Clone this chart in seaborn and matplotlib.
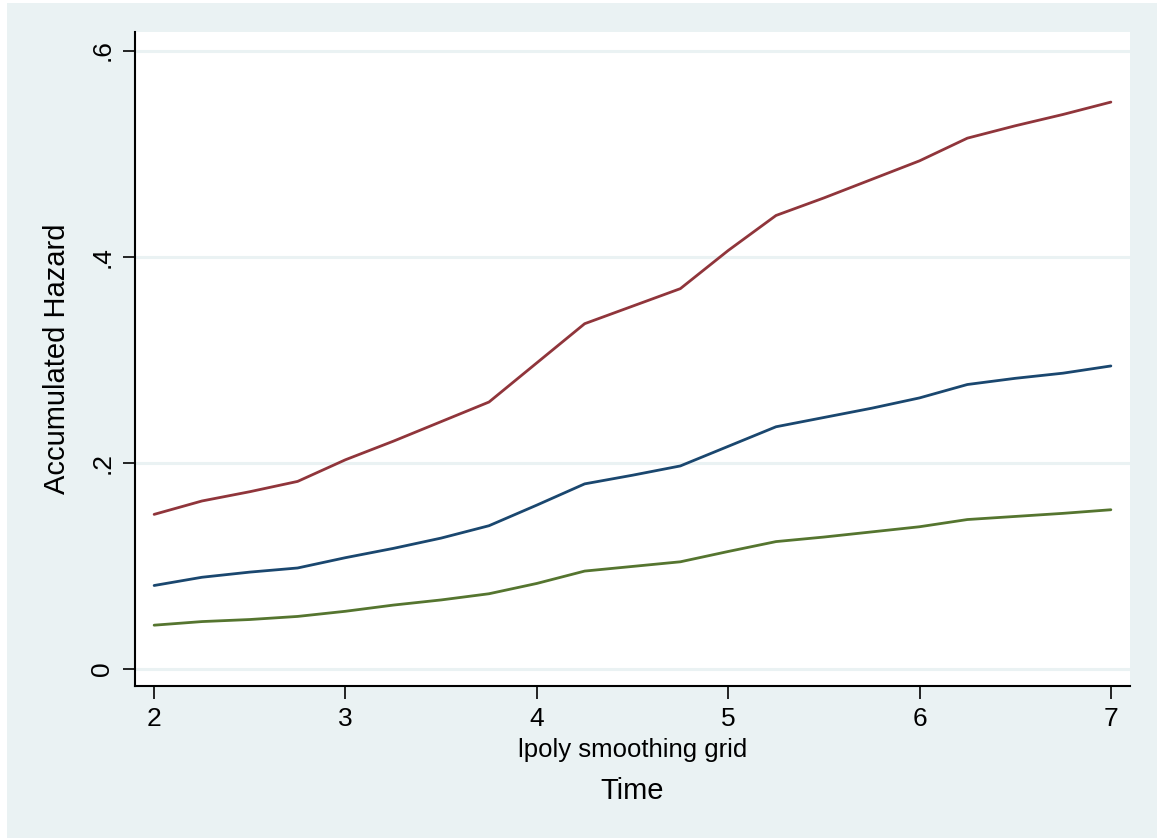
import numpy as np
import pandas as pd
import matplotlib
matplotlib.use("Agg")
import matplotlib.pyplot as plt
from matplotlib.patches import Rectangle
import seaborn as sns

# ---- data ----
time_grid = [2.00, 2.25, 2.50, 2.75, 3.00, 3.25, 3.50, 3.75, 4.00, 4.25, 4.50,
             4.75, 5.00, 5.25, 5.50, 5.75, 6.00, 6.25, 6.50, 6.75, 7.00]
hazard_red = [0.150, 0.163, 0.172, 0.182, 0.203, 0.221, 0.240, 0.259, 0.297, 0.335, 0.352,
              0.369, 0.406, 0.440, 0.457, 0.475, 0.493, 0.515, 0.527, 0.538, 0.550]
hazard_blue = [0.081, 0.089, 0.094, 0.098, 0.108, 0.117, 0.127, 0.139, 0.159, 0.1796, 0.188,
               0.197, 0.216, 0.235, 0.244, 0.253, 0.263, 0.276, 0.282, 0.287, 0.294]
hazard_green = [0.0425, 0.046, 0.048, 0.051, 0.056, 0.062, 0.067, 0.073, 0.083, 0.095, 0.0995,
                0.104, 0.114, 0.1236, 0.128, 0.133, 0.138, 0.145, 0.148, 0.151, 0.1545]
series_names = ["red", "blue", "green"]
series_colors = ["#90353B", "#1A476F", "#55752F"]
y_ticks = [0, 0.2, 0.4, 0.6]
y_ticklabels = ["0", ".2", ".4", ".6"]
x_ticks = [2, 3, 4, 5, 6, 7]

df = pd.DataFrame({
    "time": time_grid * 3,
    "hazard": hazard_red + hazard_blue + hazard_green,
    "series": [n for n in series_names for _ in time_grid],
})

sns.set_theme(style="white")
plt.rcParams["font.family"] = ["Liberation Sans", "DejaVu Sans"]

BG = "#EAF2F3"
W, H = 1157, 838
fig = plt.figure(figsize=(W / 100, H / 100), dpi=100, facecolor="white")
bg_rect = Rectangle((7 / W, 0), 1 - 7 / W, 1 - 3 / H, transform=fig.transFigure,
                    facecolor=BG, edgecolor="none", zorder=-10)
fig.patches.append(bg_rect)

ax = fig.add_axes([135 / W, 1 - 686 / H, (1130 - 135) / W, (686 - 32) / H])
ax.set_zorder(1)
ax.set_facecolor("white")

for yt in y_ticks:
    ax.axhline(yt, color=BG, lw=2.2, zorder=0)

sns.lineplot(data=df, x="time", y="hazard", hue="series", palette=series_colors,
             hue_order=series_names, linewidth=2.0, legend=False, ax=ax, zorder=3)

ax.set_xlim(1.90, 7.10)
ax.set_ylim(-0.0165, 0.618)
ax.set_xticks(x_ticks)
ax.set_xticklabels([str(x) for x in x_ticks], fontsize=19)
ax.set_yticks(y_ticks)
ax.set_yticklabels(y_ticklabels, fontsize=19, rotation=90, va="center")

for side in ["top", "right"]:
    ax.spines[side].set_visible(False)
for side in ["left", "bottom"]:
    ax.spines[side].set_color("black")
    ax.spines[side].set_linewidth(1.5)

ax.tick_params(axis="both", which="major", direction="out", length=9, width=1.2,
               color="black", labelcolor="black", pad=6, bottom=True, left=True)

ax.set_xlabel("lpoly smoothing grid", fontsize=18.5, labelpad=5, color="black")
ax.set_ylabel("Accumulated Hazard", fontsize=21, labelpad=14, color="black")
fig.text(632 / W, 1 - 791 / H, "Time", fontsize=21, ha="center", va="center", color="black")

fig.savefig("out.png", dpi=100, facecolor=fig.get_facecolor())
